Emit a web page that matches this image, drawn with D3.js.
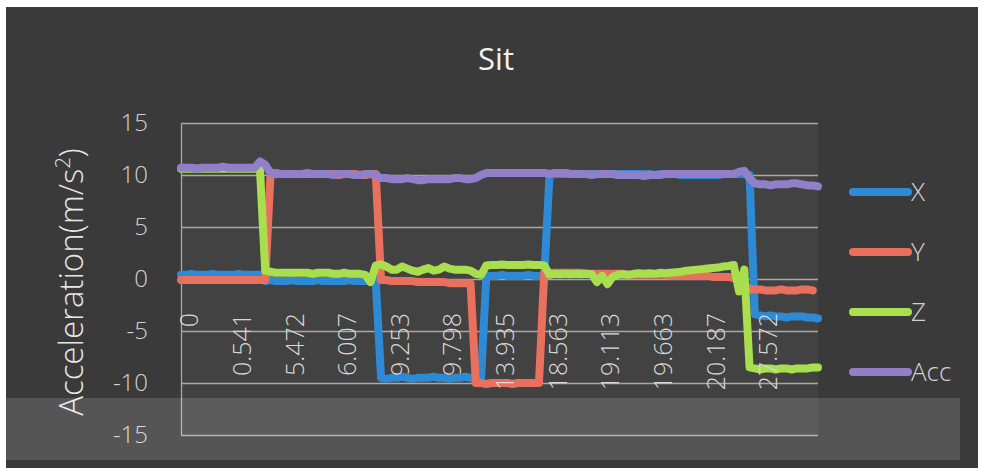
<!DOCTYPE html>
<html>
<head>
<meta charset="utf-8">
<script src="https://cdn.jsdelivr.net/npm/d3@7/dist/d3.min.js"></script>
<style>
  html, body { margin: 0; padding: 0; background: #ffffff; }
  svg { display: block; }
  text { font-family: "Open Sans", "Noto Sans", sans-serif; }
</style>
</head>
<body>
<div id="chart"></div>
<script>
// Accelerometer samples for the "Sit" recording (one entry per sample)
const seriesNames = ["X", "Y", "Z", "Acc"];
const seriesColors = ["#2f8ad6", "#e8705c", "#a9df4f", "#9180c9"];

const xValues = [
  0.4,0.4,0.5,0.4,0.4,0.4,0.5,0.4,0.4,0.4,0.4,0.5,0.4,0.4,0.4,0.4,
  -0.2,-0.1,-0.2,-0.2,-0.2,-0.1,-0.2,-0.2,-0.2,-0.2,-0.1,-0.2,-0.2,-0.2,-0.2,-0.2,-0.1,-0.2,-0.2,-0.2,-0.2,-0.2,
  -9.5,-9.6,-9.5,-9.5,-9.4,-9.5,-9.6,-9.5,-9.5,-9.5,-9.4,-9.5,-9.5,-9.6,-9.5,-9.5,-9.4,-9.5,-9.5,-9.5,
  0.3,0.3,0.3,0.4,0.3,0.3,0.3,0.3,0.4,0.3,0.3,0.3,
  10.0,10.1,10.1,10.1,10.1,10.1,10.1,10.1,10.1,10.1,
  10.1,10.1,10.1,10.1,10.1,10.1,10.1,10.1,10.1,10.1,
  10.0,10.1,10.1,10.1,10.1,10.0,10.0,10.0,10.0,10.0,
  10.0,10.0,10.0,10.1,10.1,10.1,10.1,10.1,10.0,
  -3.4,-3.5,-3.6,-3.5,-3.6,-3.6,-3.7,-3.6,-3.6,-3.6,-3.7,-3.7,-3.8
];

const yValues = [
  -0.1,-0.1,-0.1,-0.1,-0.1,-0.1,-0.1,-0.1,-0.1,-0.1,-0.1,-0.1,-0.1,-0.1,-0.1,-0.1,-0.1,
  10.0,10.1,10.1,10.1,10.1,10.1,10.1,10.1,10.1,10.1,10.1,10.1,10.1,10.0,10.1,10.1,10.1,10.0,10.0,10.1,10.1,
  -0.1,-0.1,-0.2,-0.2,-0.2,-0.2,-0.2,-0.3,-0.3,-0.3,-0.3,-0.3,-0.3,-0.4,-0.4,-0.4,-0.4,-0.4,
  -10.0,-10.0,-10.1,-10.0,-10.0,-10.0,-10.0,-10.1,-10.0,-10.0,-10.0,-10.0,-10.0,
  0.6,0.6,0.6,0.6,0.6,0.6,0.6,0.6,0.5,0.5,
  0.5,0.5,0.5,0.5,0.5,0.5,0.4,0.4,0.4,0.4,
  0.4,0.4,0.4,0.4,0.3,0.3,0.3,0.3,0.3,0.3,
  0.3,0.3,0.2,0.2,0.2,0.2,0.1,0.1,
  -0.5,-1.0,-1.0,-1.0,-1.1,-1.1,-1.1,-1.0,-1.1,-1.1,-1.1,-1.0,-1.0,-1.1
];

const zValues = [
  10.6,10.6,10.6,10.6,10.6,10.6,10.6,10.6,10.6,10.6,10.6,10.6,10.6,10.6,10.6,10.6,
  0.8,0.7,0.6,0.6,0.6,0.6,0.6,0.6,0.6,0.5,0.6,0.6,0.6,0.5,0.5,0.6,0.5,0.5,0.5,
  0.4,-0.3,1.3,1.4,1.2,0.9,0.9,1.2,1.0,0.8,0.7,0.9,1.05,0.8,0.9,1.2,1.0,0.9,0.9,0.9,0.8,0.5,0.4,
  1.3,1.35,1.35,1.4,1.35,1.35,1.35,1.35,1.4,1.35,1.35,1.3,
  0.4,0.5,0.45,0.5,0.45,0.5,0.45,0.5,0.45,-0.3,
  0.3,-0.5,0.2,0.4,0.45,0.4,0.5,0.55,0.5,0.55,
  0.5,0.6,0.55,0.6,0.65,0.7,0.8,0.85,0.9,0.95,
  1.0,1.05,1.1,1.2,1.25,1.35,-1.2,0.9,
  -8.5,-8.6,-8.7,-8.6,-8.6,-8.7,-8.6,-8.6,-8.7,-8.6,-8.6,-8.6,-8.5,-8.5
];

const accValues = [
  10.7,10.7,10.7,10.6,10.7,10.7,10.7,10.7,10.8,10.7,10.7,10.7,10.7,10.7,10.7,
  11.3,11.0,10.2,
  10.2,10.1,10.1,10.1,10.1,10.1,10.2,10.1,10.1,10.1,10.1,10.0,10.1,10.1,10.1,10.0,10.0,10.1,10.1,10.0,
  9.7,9.7,9.6,9.6,9.6,9.7,9.6,9.5,9.5,9.6,9.6,9.6,9.6,9.6,9.7,9.7,9.6,9.6,9.7,
  10.0,
  10.2,10.2,10.2,10.2,10.2,10.2,10.2,10.2,10.2,10.2,
  10.2,10.2,10.1,10.2,10.2,10.2,10.1,10.1,10.1,10.1,
  10.0,10.1,10.1,10.1,10.1,10.0,10.0,10.0,10.0,10.0,
  9.9,10.0,10.0,10.0,10.1,10.1,10.1,10.1,10.1,10.1,
  10.1,10.1,10.1,10.1,10.1,10.1,10.1,
  10.1,10.3,10.4,9.7,9.2,9.1,9.1,9.0,9.1,9.1,9.1,9.2,9.2,9.1,9.0,9.0,8.9
];

// Time stamps shown under every tenth sample
const xTickLabels = ["0","0.541","5.472","6.007","9.253","9.798","13.935","18.563","19.113","19.663","20.187","27.572"];
const yTicks = [-15, -10, -5, 0, 5, 10, 15];

const series = [xValues, yValues, zValues, accValues];

const W = 985, H = 474;
const plot = { left: 181, right: 818, top: 123, bottom: 435 };

const svg = d3.select("#chart").append("svg")
  .attr("width", W).attr("height", H);

// dark chart area on the page
svg.append("rect")
  .attr("x", 6).attr("y", 7).attr("width", 972).attr("height", 461)
  .attr("fill", "#3a3a3a");

// plot area fill
svg.append("rect")
  .attr("x", plot.left).attr("y", plot.top)
  .attr("width", plot.right - plot.left).attr("height", plot.bottom - plot.top)
  .attr("fill", "#424242");

const N = xValues.length;
const x = d3.scaleLinear().domain([0, N - 1]).range([plot.left, plot.right]);
const y = d3.scaleLinear().domain([-15, 15]).range([plot.bottom, plot.top]);

// horizontal gridlines
svg.append("g")
  .attr("transform", `translate(${plot.left},0)`)
  .call(d3.axisLeft(y).tickValues(yTicks).tickSize(-(plot.right - plot.left)).tickFormat(""))
  .call(g => g.select(".domain").remove())
  .call(g => g.selectAll("line").attr("stroke", "#a8a8a8").attr("stroke-width", 1.3));

// value axis
svg.append("g")
  .attr("transform", `translate(${plot.left},0)`)
  .call(d3.axisLeft(y).tickValues(yTicks).tickFormat(d => String(d))
    .tickSize(0).tickSizeOuter(0).tickPadding(33))
  .call(g => g.select(".domain").attr("stroke", "#a8a8a8").attr("stroke-width", 1.3))
  .call(g => g.selectAll("text")
    .attr("fill", "#d2d2d2")
    .attr("font-size", 24)
    .attr("font-weight", 300));

// series lines
const line = d3.line()
  .x((d, i) => x(i))
  .y(d => y(d));

svg.append("g")
  .selectAll("path")
  .data(series)
  .join("path")
  .attr("d", d => line(d))
  .attr("fill", "none")
  .attr("stroke", (d, i) => seriesColors[i])
  .attr("stroke-width", 8)
  .attr("stroke-linejoin", "round")
  .attr("stroke-linecap", "round");

// category axis crossing at zero, labels rotated and drawn over the lines
svg.append("g")
  .attr("transform", `translate(0,${y(0)})`)
  .call(d3.axisBottom(x)
    .tickValues(d3.range(0, N, 10))
    .tickFormat((d, i) => xTickLabels[i])
    .tickSize(0))
  .call(g => g.select(".domain").remove())
  .call(g => g.selectAll("text")
    .attr("transform", "rotate(-90)")
    .attr("text-anchor", "end")
    .attr("x", -34)
    .attr("y", 8)
    .attr("dy", "0.35em")
    .attr("fill", "#d8d8d8")
    .attr("font-size", 25)
    .attr("font-weight", 300));

// title
svg.append("text")
  .attr("x", 496).attr("y", 70)
  .attr("text-anchor", "middle")
  .attr("fill", "#f2f2f2")
  .attr("font-size", 31)
  .text("Sit");

// value axis title
const yTitle = svg.append("text")
  .attr("transform", "translate(83,282) rotate(-90)")
  .attr("text-anchor", "middle")
  .attr("fill", "#e6e6e6")
  .attr("font-size", 33)
  .attr("font-weight", 300);
yTitle.append("tspan").text("Acceleration(m/s");
yTitle.append("tspan").attr("dy", -13).attr("font-size", 20).text("2");
yTitle.append("tspan").attr("dy", 13).text(")");

// legend
const legend = svg.append("g")
  .selectAll("g")
  .data(seriesNames)
  .join("g")
  .attr("transform", (d, i) => `translate(853,${192 + i * 60})`);

legend.append("line")
  .attr("x1", 0).attr("x2", 55)
  .attr("stroke", (d, i) => seriesColors[i])
  .attr("stroke-width", 8)
  .attr("stroke-linecap", "round");

legend.append("text")
  .attr("x", 58).attr("dy", "0.35em")
  .attr("fill", "#d2d2d2")
  .attr("font-size", 26)
  .attr("font-weight", 300)
  .text(d => d);

// lighter band across the lower part of the page
svg.append("rect")
  .attr("x", 0).attr("y", 398).attr("width", 960).attr("height", 62)
  .attr("fill", "#ffffff").attr("opacity", 0.14);
</script>
</body>
</html>
